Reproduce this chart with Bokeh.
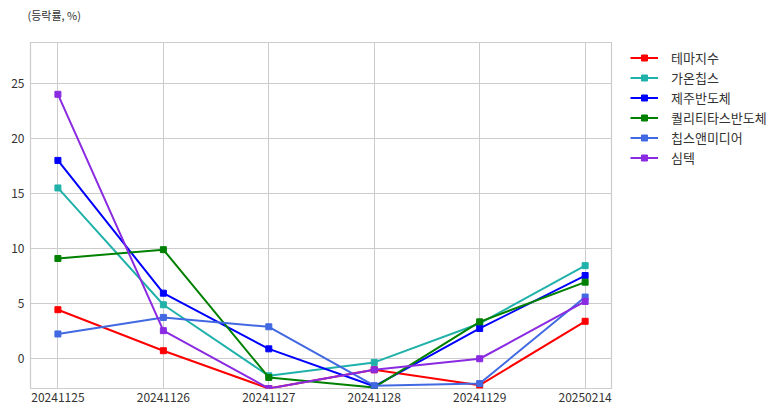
from bokeh.plotting import figure
from bokeh.models import Legend, LegendItem, FixedTicker, Range1d
from bokeh.embed import file_html
from bokeh.resources import INLINE

dates = ["20241125", "20241126", "20241127", "20241128", "20241129", "20250214"]
series_names = ["테마지수", "가온칩스", "제주반도체", "퀄리티타스반도체", "칩스앤미디어", "심텍"]
theme_index = [4.45, 0.73, -2.7, -1.0, -2.4, 3.4]
gaonchips = [15.5, 4.9, -1.55, -0.33, 3.2, 8.45]
jeju_semi = [18.0, 5.95, 0.9, -2.5, 2.75, 7.55]
qualitas_semi = [9.1, 9.9, -1.7, -2.6, 3.35, 6.95]
chips_media = [2.25, 3.75, 2.9, -2.45, -2.25, 5.6]
simmtech = [24.0, 2.55, -2.7, -1.0, 0.0, 5.2]
colors = ["#ff0000", "#20b2aa", "#0000ff", "#008000", "#4169e1", "#8a2be2"]

all_series = [theme_index, gaonchips, jeju_semi, qualitas_semi, chips_media, simmtech]
xs = list(range(len(dates)))

FONT = "Noto Sans CJK KR"

p = figure(frame_width=581, frame_height=346, output_backend="svg", toolbar_location=None,
           x_range=Range1d(-0.26, 5.25), y_range=Range1d(-2.7, 28.7),
           min_border_left=30, min_border_right=163, min_border_top=42, min_border_bottom=20)

# second (blank) line keeps the title clear of the frame, as in the reference
p.title.text = "(등락률, %)\n "
p.title.align = "left"
p.title.vertical_align = "bottom"
p.title.text_font = FONT
p.title.text_font_size = "11px"
p.title.text_font_style = "normal"
p.title.text_color = "#333333"
p.title.offset = -3
p.title.standoff = 8

p.outline_line_color = "#cccccc"
p.outline_line_width = 1.2
p.grid.grid_line_color = "#cccccc"
p.grid.grid_line_width = 1

for ax in (p.xaxis, p.yaxis):
    ax.axis_line_color = None
    ax.major_tick_line_color = None
    ax.minor_tick_line_color = None
    ax.major_tick_out = 0
    ax.major_tick_in = 0
    ax.major_label_text_font = FONT
    ax.major_label_text_font_size = "12px"
    ax.major_label_text_color = "#333333"

p.xaxis.ticker = FixedTicker(ticks=xs)
p.xaxis.major_label_overrides = {i: d for i, d in enumerate(dates)}
p.xaxis.major_label_standoff = 4
p.yaxis.ticker = FixedTicker(ticks=[0, 5, 10, 15, 20, 25])
p.yaxis.major_label_standoff = 6

items = []
for name, vals, c in zip(series_names, all_series, colors):
    l = p.line(xs, vals, line_color=c, line_width=2)
    s = p.scatter(xs, vals, marker="square", size=6, fill_color=c, line_color=c)
    items.append(LegendItem(label=name, renderers=[l, s]))

legend = Legend(items=items, location=(19, 221), padding=0, margin=0,
                border_line_color=None, background_fill_alpha=0,
                glyph_width=28, glyph_height=15, spacing=0, label_standoff=13,
                label_text_font=FONT, label_text_font_size="13px",
                label_text_color="#333333", label_height=20)
p.add_layout(legend, "right")

open("out.html", "w").write(file_html(p, INLINE))
